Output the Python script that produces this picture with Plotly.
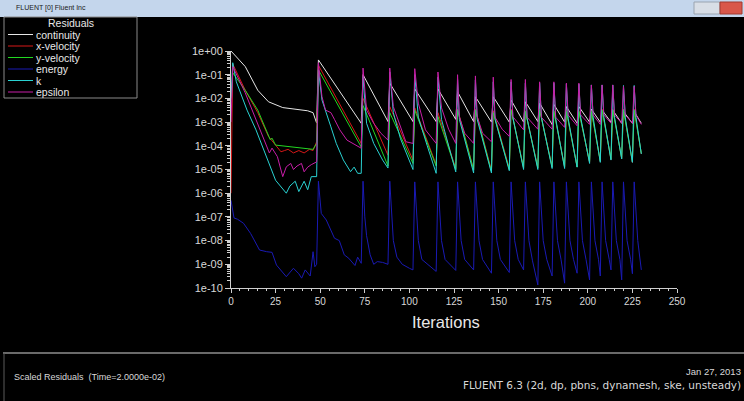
import plotly.graph_objects as go

# ---------------- data ----------------
continuity_it = [0, 8, 15, 21, 29, 36, 43, 46, 48,
                 49, 73, 74, 88, 89, 102, 103, 115, 116, 126, 127, 136,
                 137, 146, 147, 156, 157, 164, 165, 172, 173, 180, 181, 187,
                 188, 194, 195, 201, 202, 207, 208, 213, 214, 219, 220, 225,
                 226, 230]
continuity = [1.0, 0.22, 0.022, 0.0072, 0.0041, 0.0035, 0.003, 0.0025, 0.00091,
              0.42, 0.00089, 0.1, 0.00105, 0.044, 0.00105, 0.025, 0.00105,
              0.025, 0.0013, 0.019, 0.00105, 0.0117, 0.001, 0.0117, 0.001,
              0.0085, 0.001, 0.0072, 0.00105, 0.0063, 0.00079, 0.0056, 0.001,
              0.0045, 0.00089, 0.0045, 0.001, 0.0035, 0.001, 0.0032, 0.001,
              0.0032, 0.00089, 0.0028, 0.00089, 0.0028, 0.00089]

xvel_it = [0, 1, 8, 15, 21, 24, 26, 28, 30, 32, 35, 38, 41, 44, 46, 48,
           49, 73, 74, 88, 89, 102, 103, 115, 116, 126, 127, 136,
           137, 146, 147, 156, 157, 164, 165, 172, 173, 180, 181, 187,
           188, 194, 195, 201, 202, 207, 208, 213, 214, 219, 220, 225,
           226, 230]
xvel = [1e-6, 0.28, 0.022, 0.0025, 0.00025, 0.000126, 7.9e-5, 5.6e-5, 6.3e-5,
        7.1e-5, 5e-5, 6.3e-5, 5e-5, 7.1e-5, 6.3e-5, 0.000148,
        0.25, 0.000126, 0.01, 4e-5, 0.0045, 2.5e-5, 0.004, 1.6e-5,
        0.0025, 1.1e-5, 0.0035, 1e-5, 0.0035, 9e-6, 0.003, 1.1e-5,
        0.0035, 1.2e-5, 0.003, 1.2e-5, 0.0035, 1.3e-5, 0.003, 1.3e-5,
        0.003, 1.3e-5, 0.003, 2e-5, 0.003, 2.2e-5, 0.0035, 2.6e-5,
        0.0035, 2.9e-5, 0.0035, 2e-5, 0.0035, 4.5e-5]

yvel_it = [0, 1, 8, 15, 22, 23, 25, 35, 46, 48,
           49, 73, 74, 88, 89, 102, 103, 115, 116, 126, 127, 136,
           137, 146, 147, 156, 157, 164, 165, 172, 173, 180, 181, 187,
           188, 194, 195, 201, 202, 207, 208, 213, 214, 219, 220, 225,
           226, 230]
yvel = [0.0085, 0.12, 0.022, 0.0032, 0.00018, 0.00021, 0.000107, 8.9e-5, 7.1e-5, 0.000126,
        0.16, 8.9e-5, 0.005, 1.4e-5, 0.0025, 1.8e-5, 0.0032, 1.4e-5,
        0.0017, 1e-5, 0.0032, 9.5e-6, 0.0032, 8.1e-6, 0.0025, 1e-5,
        0.0032, 1.15e-5, 0.0028, 1.15e-5, 0.0032, 1.26e-5, 0.0028, 1.26e-5,
        0.0028, 1.26e-5, 0.0028, 2.1e-5, 0.0028, 2.3e-5, 0.0032, 2.8e-5,
        0.0032, 3e-5, 0.0032, 2.1e-5, 0.0032, 4.8e-5]

energy_it = [0, 1.7, 3.6, 7, 11, 16, 20, 23, 25.5, 31, 35, 38, 39.6, 41.6, 44.4, 46, 47, 48,
             49, 50.6, 53.4, 56, 58, 60.7, 63.5, 66, 68, 69.5, 71, 73,
             74, 75, 76, 78, 80, 82, 85, 88,
             89, 90, 91, 93, 96, 100, 102,
             103, 104, 105, 107, 115,
             116, 117, 118, 120, 126,
             127, 128, 129, 131, 136,
             137, 138, 139, 141, 146,
             147, 148, 149, 151, 156,
             157, 158, 159, 161, 164,
             165, 166, 167, 169, 172,
             173, 174, 175, 177, 180,
             181, 182, 183, 185, 187,
             188, 189, 190, 192, 194,
             195, 196, 197, 199, 201,
             202, 203, 204, 206, 207,
             208, 209, 210, 212, 213,
             214, 215, 216, 218, 219,
             220, 221, 222, 224, 225,
             226, 227, 228, 230]
energy = [5e-7, 9e-8, 8e-8, 5.4e-8, 2e-8, 4e-9, 3.4e-9, 3.2e-9, 9.3e-10, 3e-10, 6.8e-10, 4e-10,
          2.6e-10, 5.8e-10, 3.2e-10, 3.4e-9, 7.9e-10, 1e-9,
          3.2e-6, 1.4e-7, 7.4e-8, 2.8e-8, 1.26e-8, 1e-8, 2.5e-9, 1.8e-9, 1.26e-9, 8.9e-10, 2e-9, 1.1e-9,
          3.2e-6, 1e-7, 1.6e-8, 2.5e-9, 1e-9, 1.3e-9, 1.2e-9, 1e-9,
          3.2e-6, 1.3e-7, 1e-8, 2e-9, 1e-9, 6.8e-10, 5.8e-10,
          3e-6, 1.3e-7, 1e-8, 1.6e-9, 5e-10,
          3e-6, 1.3e-7, 1e-8, 1.6e-9, 5.5e-10,
          3e-6, 1.3e-7, 1e-8, 1.6e-9, 5.8e-10,
          3e-6, 1.3e-7, 1e-8, 1.6e-9, 4.2e-10,
          3e-6, 1.3e-7, 1e-8, 1.6e-9, 4.5e-10,
          3e-6, 1.3e-7, 1e-8, 1.6e-9, 5.8e-10,
          3e-6, 1.3e-7, 1e-8, 1.4e-9, 1.35e-10,
          3e-6, 1.3e-7, 1e-8, 1.6e-9, 3.2e-10,
          3e-6, 1.3e-7, 1e-8, 1.6e-9, 1.6e-10,
          3e-6, 1.3e-7, 1e-8, 1.6e-9, 4.2e-10,
          3e-6, 1.3e-7, 1e-8, 1.6e-9, 2.2e-10,
          3e-6, 1.3e-7, 1e-8, 1.6e-9, 3.2e-10,
          3e-6, 1.3e-7, 1e-8, 1.6e-9, 5.8e-10,
          3e-6, 1.3e-7, 1e-8, 1.6e-9, 2.2e-10,
          3e-6, 1.3e-7, 1e-8, 1.6e-9, 4e-10,
          3e-6, 1.3e-7, 1e-8, 5.8e-10]

k_it = [0, 1, 3, 9, 14, 20, 25, 31, 33, 36, 38, 41, 43, 45, 48,
        49, 51, 56, 59, 63, 67, 69, 71, 73,
        74, 76, 80, 85, 88,
        89, 91, 95, 102,
        103, 105, 110, 115,
        116, 118, 126, 127, 128, 136, 137, 138, 146, 147, 148, 156,
        157, 158, 164, 165, 166, 172, 173, 174, 180, 181, 182, 187,
        188, 189, 194, 195, 196, 201, 202, 203, 207, 208, 209, 213,
        214, 215, 219, 220, 221, 225, 226, 227, 230]
k = [0.01, 0.32, 0.05, 0.0032, 0.00047, 3.5e-5, 3.5e-6, 1e-6, 2e-6, 3.2e-6, 1.17e-6, 3.2e-6, 1.4e-6, 5e-6, 5e-6,
     0.16, 0.0085, 0.00063, 0.000126, 2.5e-5, 8.1e-6, 1.26e-5, 6.9e-6, 6.9e-6,
     0.083, 0.00089, 0.000126, 2.5e-5, 1.15e-5,
     0.13, 0.0025, 0.0002, 1e-5,
     0.1, 0.0016, 1e-4, 6.9e-6,
     0.079, 0.0013, 7.9e-6, 0.063, 0.0013, 7.1e-6, 0.06, 0.0013, 7.1e-6, 0.05, 0.0013, 8.9e-6,
     0.05, 0.0016, 1e-5, 0.044, 0.0014, 1e-5, 0.044, 0.0016, 1.1e-5, 0.044, 0.0014, 1.1e-5,
     0.04, 0.0014, 1.26e-5, 0.04, 0.0016, 1.8e-5, 0.037, 0.0016, 2e-5, 0.037, 0.0016, 2.5e-5,
     0.037, 0.0016, 2.8e-5, 0.035, 0.0016, 2e-5, 0.035, 0.0016, 4.5e-5]

epsilon_it = [0, 1, 8, 15, 19.5, 21.5, 23, 26, 29, 31, 33.5, 35, 37, 39.5, 41, 43, 45, 48,
              49, 51, 53, 56, 58, 61, 65, 68, 73,
              74, 76, 80, 84, 88,
              89, 91, 95, 98, 102,
              103, 105, 109, 115,
              116, 118, 122, 126,
              127, 128, 131, 136,
              137, 138, 141, 146,
              147, 148, 152, 156,
              157, 158, 164, 165, 166, 172, 173, 174, 180, 181, 182, 187,
              188, 189, 194, 195, 196, 201, 202, 203, 207, 208, 209, 213,
              214, 215, 219, 220, 221, 225, 226, 227, 230]
epsilon = [0.001, 0.22, 0.017, 0.00091, 0.000126, 5e-5, 8e-5, 3.5e-5, 5e-6, 1.3e-5, 1.8e-5, 1e-5,
           1.4e-5, 1.8e-5, 8e-6, 1.26e-5, 1.6e-5, 2.1e-5,
           0.32, 0.0117, 0.0032, 0.0025, 0.0013, 0.00047, 0.000174, 0.000126, 7.9e-5,
           0.19, 0.0032, 0.00089, 0.00034, 0.000174,
           0.19, 0.0045, 0.00063, 0.000148, 0.000126,
           0.18, 0.0063, 0.00047, 0.000126,
           0.13, 0.004, 0.0005, 0.000126,
           0.1, 0.0017, 0.00034, 0.000126,
           0.089, 0.0017, 0.00034, 0.000148,
           0.079, 0.0016, 0.0005, 0.00025,
           0.063, 0.0017, 0.00047, 0.063, 0.0016, 0.0005, 0.05, 0.0016, 0.0005, 0.05, 0.0016, 0.0006,
           0.044, 0.002, 0.0007, 0.044, 0.002, 0.0008, 0.037, 0.002, 0.0008, 0.037, 0.002, 0.0009,
           0.037, 0.002, 0.0009, 0.032, 0.002, 0.0009, 0.032, 0.002, 0.0008]

series_names = ["continuity", "x-velocity", "y-velocity", "energy", "k", "epsilon"]
series_colors = ["#e6e6e6", "#d81818", "#22d822", "#1a1ab4", "#2ad2d2", "#c81ea8"]

ytick_vals = [1e0, 1e-1, 1e-2, 1e-3, 1e-4, 1e-5, 1e-6, 1e-7, 1e-8, 1e-9, 1e-10]
ytick_text = ["1e+00", "1e-01", "1e-02", "1e-03", "1e-04", "1e-05",
              "1e-06", "1e-07", "1e-08", "1e-09", "1e-10"]
xtick_vals = [0, 25, 50, 75, 100, 125, 150, 175, 200, 225, 250]

# ---------------- figure ----------------
W, H = 744, 401
L, R, T, B = 231, 67, 51, 113
PW, PH = W - L - R, H - T - B
FONT = "Liberation Sans, Arial, sans-serif"


def px(x):
    return (x - L) / PW


def py(y):
    return (H - B - y) / PH


fig = go.Figure()
data = [(continuity_it, continuity), (xvel_it, xvel), (yvel_it, yvel),
        (energy_it, energy), (k_it, k), (epsilon_it, epsilon)]
for (xs, ys), name, col in zip(data, series_names, series_colors):
    fig.add_trace(go.Scatter(x=xs, y=ys, mode="lines", name=name,
                             line=dict(color=col, width=1), showlegend=False))

axis_col = "#cfcfcf"
fig.update_xaxes(range=[0, 250], tickvals=xtick_vals, ticks="outside", ticklen=4,
                 tickcolor=axis_col, showline=True, linecolor=axis_col, linewidth=1,
                 showgrid=False, zeroline=False,
                 tickfont=dict(family=FONT, size=10, color="#d8d8d8"),
                 minor=dict(dtick=5, ticks="outside", ticklen=2, tickcolor=axis_col, showgrid=False))
fig.update_yaxes(type="log", range=[-10, 0], tickvals=ytick_vals, ticktext=ytick_text,
                 ticks="outside", ticklen=5, tickcolor=axis_col,
                 showline=True, linecolor=axis_col, linewidth=1, showgrid=False, zeroline=False,
                 tickfont=dict(family=FONT, size=11, color="#d8d8d8"),
                 minor=dict(dtick="D1", ticks="outside", ticklen=3, tickcolor=axis_col, showgrid=False))

shapes = []
annotations = []

# title bar
shapes.append(dict(type="rect", xref="paper", yref="paper", x0=px(0), x1=px(W), y0=py(0), y1=py(17),
                   fillcolor="#c4d6ec", line=dict(width=0), layer="below"))
shapes.append(dict(type="rect", xref="paper", yref="paper", x0=px(694), x1=px(720), y0=py(2), y1=py(14),
                   fillcolor="#d8dee6", line=dict(color="#9aa4b0", width=1)))
shapes.append(dict(type="rect", xref="paper", yref="paper", x0=px(720), x1=px(742), y0=py(2), y1=py(14),
                   fillcolor="#d9574a", line=dict(color="#a03a30", width=1)))
annotations.append(dict(text="FLUENT [0] Fluent Inc", xref="paper", yref="paper", x=px(14), y=py(8),
                        xanchor="left", yanchor="middle", showarrow=False,
                        font=dict(family=FONT, size=7, color="#202020")))

# legend box
shapes.append(dict(type="rect", xref="paper", yref="paper", x0=px(4), x1=px(137), y0=py(17), y1=py(98),
                   fillcolor="rgba(0,0,0,0)", line=dict(color="#8a8a8a", width=1)))
annotations.append(dict(text="Residuals", xref="paper", yref="paper", x=px(71), y=py(23),
                        xanchor="center", yanchor="middle", showarrow=False,
                        font=dict(family=FONT, size=10.5, color="#e8e8e8")))
row_y = [34.5, 46, 57.5, 69, 80.5, 92]
for name, col, yy in zip(series_names, series_colors, row_y):
    shapes.append(dict(type="line", xref="paper", yref="paper", x0=px(8), x1=px(33), y0=py(yy), y1=py(yy),
                       line=dict(color=col, width=1)))
    annotations.append(dict(text=name, xref="paper", yref="paper", x=px(34), y=py(yy),
                            xanchor="left", yanchor="middle", showarrow=False,
                            font=dict(family=FONT, size=10.5, color="#e8e8e8")))

# axis title
annotations.append(dict(text="Iterations", xref="paper", yref="paper", x=px(446), y=py(322),
                        xanchor="center", yanchor="middle", showarrow=False,
                        font=dict(family=FONT, size=16.5, color="#e8e8e8")))

# bottom info panel
shapes.append(dict(type="line", xref="paper", yref="paper", x0=px(3), x1=px(W), y0=py(353), y1=py(353),
                   line=dict(color="#6a6a6a", width=2)))
shapes.append(dict(type="line", xref="paper", yref="paper", x0=px(4), x1=px(4), y0=py(353), y1=py(H),
                   line=dict(color="#5a5a5a", width=1)))
annotations.append(dict(text="Scaled Residuals  (Time=2.0000e-02)", xref="paper", yref="paper",
                        x=px(12), y=py(377), xanchor="left", yanchor="middle", showarrow=False,
                        font=dict(family=FONT, size=9, color="#d8d8d8")))
annotations.append(dict(text="Jan 27, 2013", xref="paper", yref="paper",
                        x=px(743), y=py(371), xanchor="right", yanchor="middle", showarrow=False,
                        font=dict(family=FONT, size=9.5, color="#d8d8d8")))
annotations.append(dict(text="FLUENT 6.3 (2d, dp, pbns, dynamesh, ske, unsteady)", xref="paper", yref="paper",
                        x=px(743), y=py(384.5), xanchor="right", yanchor="middle", showarrow=False,
                        font=dict(family="DejaVu Sans, sans-serif", size=10.5, color="#d8d8d8")))

fig.update_layout(width=W, height=H, margin=dict(l=L, r=R, t=T, b=B, pad=0),
                  paper_bgcolor="#000000", plot_bgcolor="#000000",
                  shapes=shapes, annotations=annotations, showlegend=False)

fig.write_html("out.html")
